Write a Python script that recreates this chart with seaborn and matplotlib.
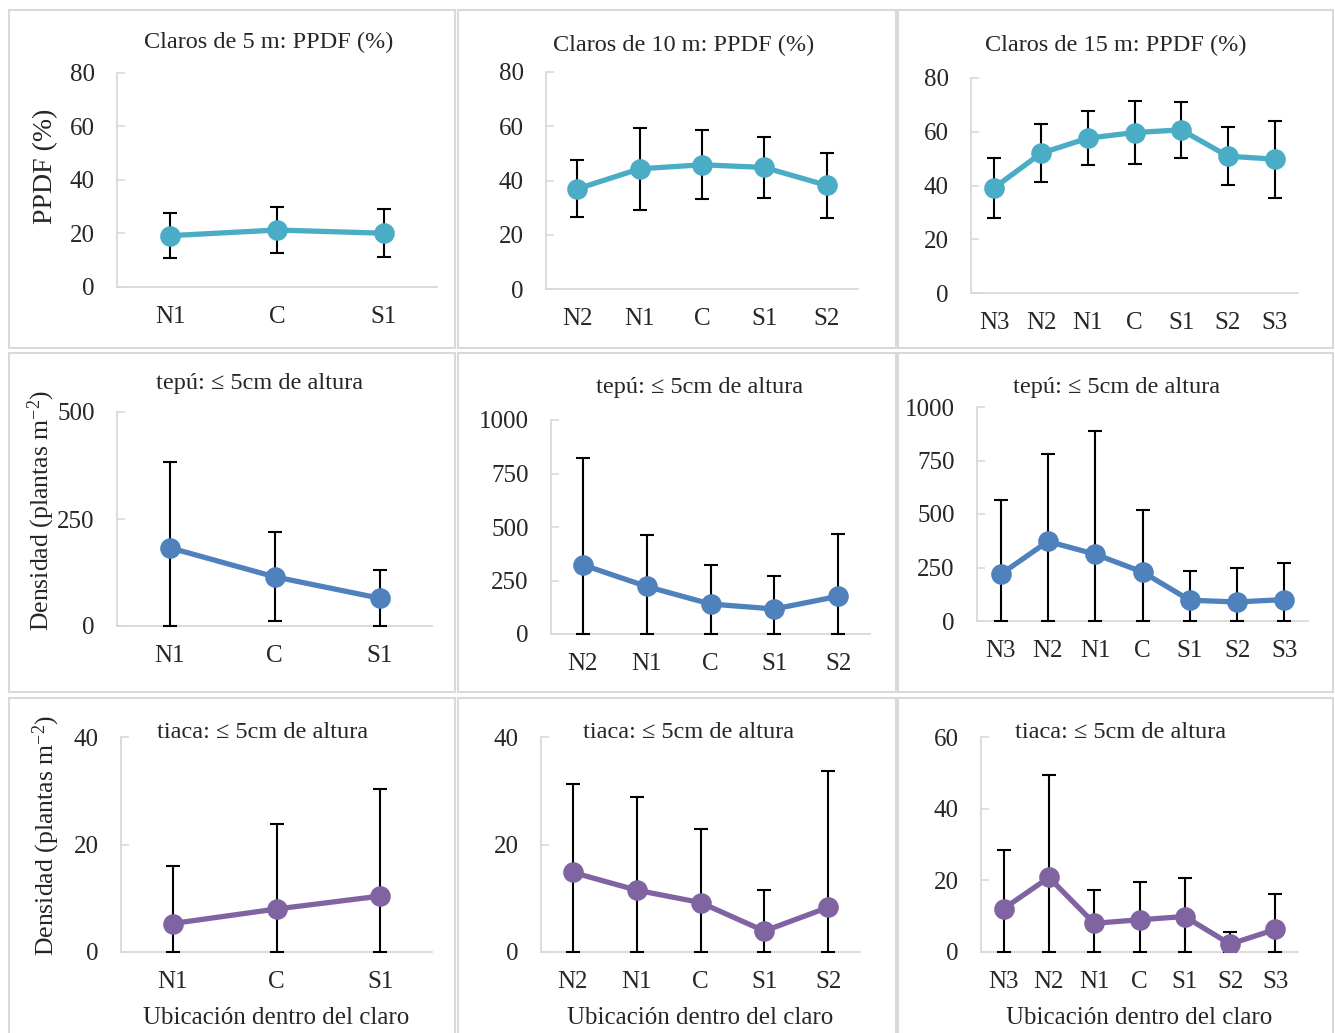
import matplotlib
matplotlib.use("Agg")
import matplotlib.pyplot as plt
import pandas as pd
import seaborn as sns
from matplotlib.patches import Rectangle

# --- datos (media y desviación estándar) ---
cats3 = ["N1", "C", "S1"]
cats5 = ["N2", "N1", "C", "S1", "S2"]
cats7 = ["N3", "N2", "N1", "C", "S1", "S2", "S3"]

ppdf_5m_mean = [19.2, 21.3, 20.1]
ppdf_5m_sd = [8.5, 8.7, 9.0]
ppdf_10m_mean = [36.9, 44.3, 45.8, 44.8, 38.2]
ppdf_10m_sd = [10.5, 15.1, 12.8, 11.2, 12.0]
ppdf_15m_mean = [39.2, 52.0, 57.6, 59.7, 60.7, 50.9, 49.8]
ppdf_15m_sd = [11.2, 10.7, 10.1, 11.8, 10.3, 10.8, 14.3]

tepu_5m_mean = [183, 115, 65]
tepu_5m_sd = [200, 104, 66]
tepu_10m_mean = [323, 222, 140, 117, 176]
tepu_10m_sd = [498, 241, 184, 156, 292]
tepu_15m_mean = [218, 372, 312, 229, 97, 89, 100]
tepu_15m_sd = [346, 410, 576, 288, 135, 160, 173]

tiaca_5m_mean = [5.3, 8.0, 10.4]
tiaca_5m_sd = [10.7, 15.9, 20.0]
tiaca_10m_mean = [14.8, 11.5, 9.2, 3.9, 8.3]
tiaca_10m_sd = [16.4, 17.3, 13.7, 7.7, 25.3]
tiaca_15m_mean = [12.1, 20.8, 8.0, 9.0, 9.9, 2.2, 6.3]
tiaca_15m_sd = [16.5, 28.5, 9.4, 10.6, 10.7, 3.5, 9.8]

titulos = ["Claros de 5 m: PPDF (%)", "Claros de 10 m: PPDF (%)", "Claros de 15 m: PPDF (%)",
           "tepú: ≤ 5cm de altura", "tepú: ≤ 5cm de altura", "tepú: ≤ 5cm de altura",
           "tiaca: ≤ 5cm de altura", "tiaca: ≤ 5cm de altura", "tiaca: ≤ 5cm de altura"]

# --- estilo ---
sns.set_theme(style="white")
plt.rcParams["font.family"] = ["Liberation Serif", "DejaVu Serif"]
plt.rcParams["mathtext.fontset"] = "custom"
plt.rcParams["mathtext.rm"] = "Liberation Serif"
plt.rcParams["mathtext.it"] = "Liberation Serif:italic"

C_PPDF = "#4BACC6"
C_TEPU = "#4F81BD"
C_TIACA = "#8064A2"
GRIS = "#D9D9D9"

W, H = 1335, 1033
fig = plt.figure(figsize=(W / 100, H / 100), dpi=100)


def px_axes(l, t, r, b):
    return fig.add_axes([l / W, 1 - b / H, (r - l) / W, (b - t) / H])


paneles = [
    # (caja ejes px, caja panel px, cats, media, sd, color, ymax, yticks, titulo px)
    ((117, 73, 437, 287), (9, 10, 455, 348), cats3, ppdf_5m_mean, ppdf_5m_sd, C_PPDF, 80, [0, 20, 40, 60, 80], (269, 42)),
    ((546, 72, 858, 289), (458, 10, 896, 348), cats5, ppdf_10m_mean, ppdf_10m_sd, C_PPDF, 80, [0, 20, 40, 60, 80], (684, 45)),
    ((971, 78, 1298, 293), (898, 10, 1333, 348), cats7, ppdf_15m_mean, ppdf_15m_sd, C_PPDF, 80, [0, 20, 40, 60, 80], (1116, 45)),
    ((117, 412, 432, 626), (9, 353, 455, 692), cats3, tepu_5m_mean, tepu_5m_sd, C_TEPU, 500, [0, 250, 500], (260, 383)),
    ((551, 420, 870, 634), (458, 353, 896, 692), cats5, tepu_10m_mean, tepu_10m_sd, C_TEPU, 1000, [0, 250, 500, 750, 1000], (700, 388)),
    ((977, 407, 1308, 621), (898, 353, 1333, 692), cats7, tepu_15m_mean, tepu_15m_sd, C_TEPU, 1000, [0, 250, 500, 750, 1000], (1117, 388)),
    ((121, 737, 432, 952), (9, 698, 455, 1045), cats3, tiaca_5m_mean, tiaca_5m_sd, C_TIACA, 40, [0, 20, 40], (263, 732)),
    ((541, 737, 860, 952), (458, 698, 896, 1045), cats5, tiaca_10m_mean, tiaca_10m_sd, C_TIACA, 40, [0, 20, 40], (689, 732)),
    ((981, 737, 1298, 952), (898, 698, 1333, 1045), cats7, tiaca_15m_mean, tiaca_15m_sd, C_TIACA, 60, [0, 20, 40, 60], (1121, 732)),
]

for i, (abox, pbox, cats, media, sd, color, ymax, yticks, tpos) in enumerate(paneles):
    # marco del panel
    l, t, r, b = pbox
    fig.add_artist(Rectangle((l / W, 1 - b / H), (r - l) / W, (b - t) / H,
                             transform=fig.transFigure, fill=False,
                             edgecolor=GRIS, linewidth=1.5))

    ax = px_axes(*abox)
    df = pd.DataFrame({"ubic": cats, "media": media, "sd": sd})
    df["inf"] = (df["media"] - df["sd"]).clip(lower=0)

    # barras de error por encima del eje, por debajo de la serie
    ax.errorbar(range(len(cats)), df["media"],
                yerr=[df["media"] - df["inf"], df["sd"]],
                fmt="none", ecolor="black", elinewidth=1.5,
                capsize=5, capthick=1.5, zorder=2.7, clip_on=False)
    sns.pointplot(data=df, x="ubic", y="media", order=cats, color=color,
                  errorbar=None, markers="o", markersize=12, linewidth=3.8,
                  ax=ax, zorder=3)

    ax.set_xlim(-0.5, len(cats) - 0.5)
    ax.set_ylim(0, ymax)
    ax.set_yticks(yticks)
    ax.set_xlabel("")
    ax.set_ylabel("")
    sns.despine(ax=ax)
    for s in ("left", "bottom"):
        ax.spines[s].set_color(GRIS)
        ax.spines[s].set_linewidth(1.3)
    ax.tick_params(axis="y", direction="in", length=6, width=1.2, color=GRIS,
                   labelsize=18, pad=16, left=True)
    ax.tick_params(axis="x", length=0, labelsize=18, pad=14)

    fig.text(tpos[0] / W, 1 - tpos[1] / H, titulos[i], fontsize=17.5,
             ha="center", va="center")

    if i == 0:
        ax.set_ylabel("PPDF (%)", fontsize=20)
        ax.yaxis.set_label_coords(-0.184, 0.565)
    elif i in (3, 6):
        ax.set_ylabel("Densidad (plantas m$^{-2}$)", fontsize=18.5)
        ax.yaxis.set_label_coords(-0.19, 0.54)
    if i >= 6:
        ax.set_xlabel("Ubicación dentro del claro", fontsize=18, labelpad=10)

fig.savefig("out.png", dpi=100)
